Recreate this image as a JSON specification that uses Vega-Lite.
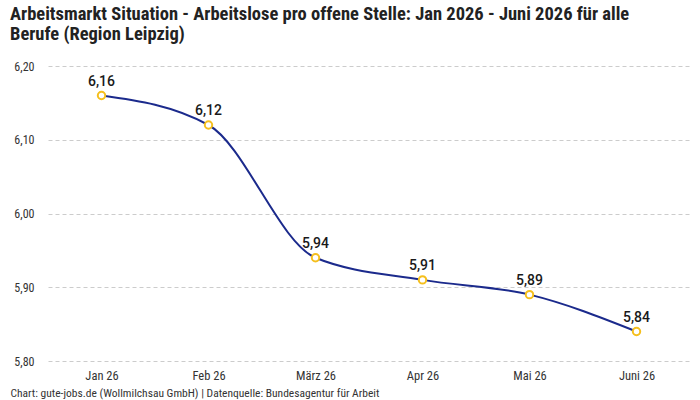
{
  "$schema": "https://vega.github.io/schema/vega-lite/v6.json",
  "width": 642,
  "height": 295,
  "autosize": {"type": "none"},
  "padding": {"left": 48, "top": 66, "right": 10, "bottom": 39},
  "background": "white",
  "title": {
    "text": ["Arbeitsmarkt Situation - Arbeitslose pro offene Stelle: Jan 2026 - Juni 2026 für alle", "Berufe (Region Leipzig)"],
    "anchor": "start",
    "frame": "group",
    "dx": -38,
    "offset": 17,
    "font": "Roboto Condensed, DejaVu Sans Condensed, Roboto",
    "fontSize": 18.5,
    "fontWeight": "bold",
    "color": "#222222",
    "lineHeight": 20
  },
  "config": {
    "locale": {"number": {"decimal": ",", "thousands": ".", "grouping": [3], "currency": ["", " €"]}},
    "view": {"stroke": null},
    "font": "Roboto"
  },
  "data": {
    "values": [
      {"monat": "Jan 26", "wert": 6.16},
      {"monat": "Feb 26", "wert": 6.12},
      {"monat": "März 26", "wert": 5.94},
      {"monat": "Apr 26", "wert": 5.91},
      {"monat": "Mai 26", "wert": 5.89},
      {"monat": "Juni 26", "wert": 5.84}
    ]
  },
  "encoding": {
    "x": {
      "field": "monat",
      "type": "ordinal",
      "sort": null,
      "scale": {"type": "point", "padding": 0.5},
      "axis": {
        "title": "Chart: gute-jobs.de (Wollmilchsau GmbH) | Datenquelle: Bundesagentur für Arbeit",
        "titleAnchor": "start",
        "titleAlign": "left",
        "titleX": -38,
        "titleY": 26,
        "titleFontSize": 11.5,
        "titleFontWeight": "normal",
        "titleColor": "#333333",
        "titleFont": "Roboto Condensed, DejaVu Sans Condensed, Roboto",
        "labelAngle": 0,
        "labelFontSize": 12.5,
        "labelColor": "#333333",
        "labelPadding": 8,
        "labelFont": "Roboto Condensed, DejaVu Sans Condensed, Roboto",
        "domain": false,
        "ticks": false,
        "grid": false
      }
    },
    "y": {
      "field": "wert",
      "type": "quantitative",
      "scale": {"domain": [5.8, 6.2], "zero": false, "nice": false},
      "axis": {
        "title": null,
        "values": [5.8, 5.9, 6.0, 6.1, 6.2],
        "format": ".2f",
        "labelFontSize": 12,
        "labelColor": "#333333",
        "labelPadding": 14,
        "labelFont": "Roboto Condensed, DejaVu Sans Condensed, Roboto",
        "domain": false,
        "ticks": false,
        "grid": true,
        "gridColor": "#cccccc",
        "gridDash": [4, 3],
        "gridWidth": 1
      }
    }
  },
  "layer": [
    {
      "mark": {"type": "line", "interpolate": "monotone", "color": "#1b2a8c", "strokeWidth": 2}
    },
    {
      "mark": {"type": "point", "shape": "circle", "filled": true, "fill": "white", "stroke": "#f5bf1d", "strokeWidth": 2, "size": 55, "opacity": 1}
    },
    {
      "mark": {"type": "text", "dy": -14, "fontSize": 14, "fontWeight": 500, "color": "#1a1a1a", "font": "Roboto"},
      "encoding": {"text": {"field": "wert", "type": "quantitative", "format": ".2f"}}
    }
  ]
}
